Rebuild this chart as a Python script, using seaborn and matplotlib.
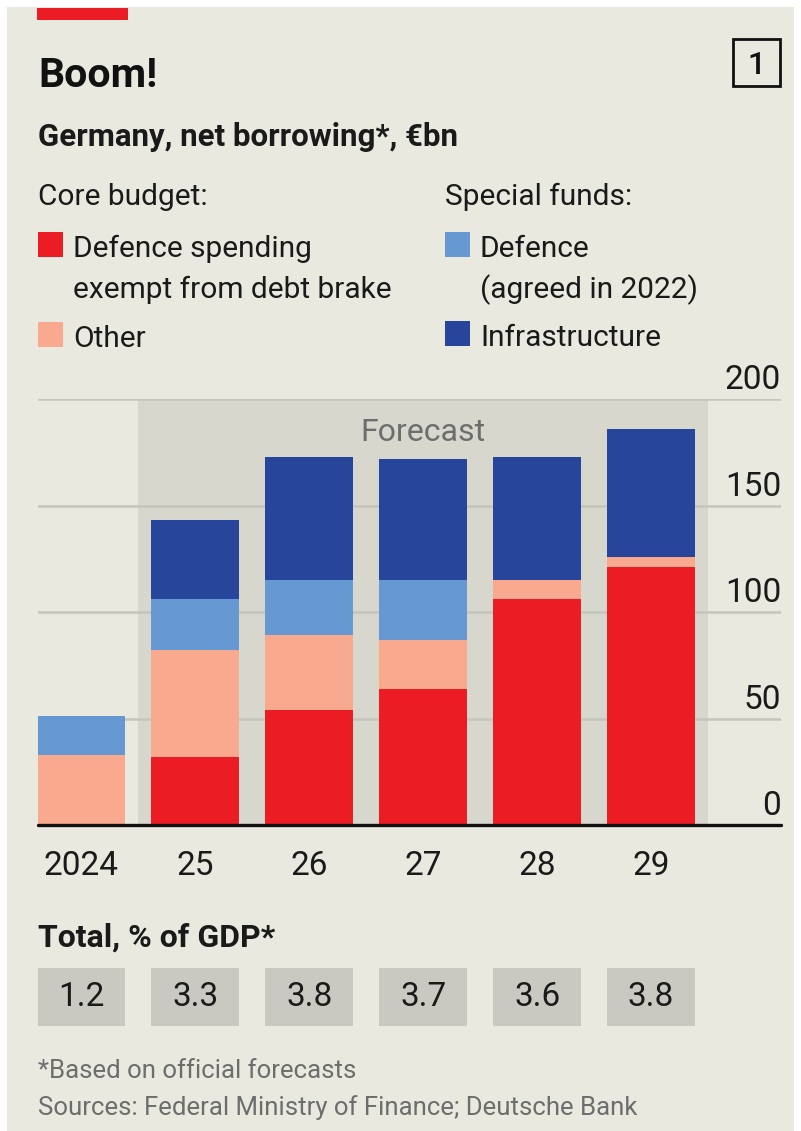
import matplotlib
matplotlib.use("Agg")
import matplotlib.pyplot as plt
import seaborn as sns
import pandas as pd
from matplotlib.patches import Rectangle

# data (€bn)
years = ["2024", "25", "26", "27", "28", "29"]
defence_exempt = [0, 32, 54, 64, 106, 121]
core_other = [33, 50, 35, 23, 9, 5]
fund_defence = [18, 24, 26, 28, 0, 0]
fund_infra = [0, 37, 58, 57, 58, 60]
gdp_pct = ["1.2", "3.3", "3.8", "3.7", "3.6", "3.8"]
y_ticks = [0, 50, 100, 150, 200]

RED = "#ec1c24"
SALMON = "#f9a98e"
LIGHTBLUE = "#6699d2"
DARKBLUE = "#28459c"
BG = "#eae9df"
SHADE = "#d8d7cd"
BOX = "#cac9c1"
GREY_TXT = "#6d6d6d"
INK = "#1a1a1a"

sns.set_style("white")
plt.rcParams["font.family"] = ["Roboto", "DejaVu Sans"]

W, H = 801, 1131
fig = plt.figure(figsize=(W / 100, H / 100), dpi=100)
fig.patch.set_facecolor("white")


def fx(px):
    return px / W


def fy(py):
    return 1 - py / H


# background panel
fig.patches.append(Rectangle((fx(7), 0), fx(787), fy(7), transform=fig.transFigure,
                             facecolor=BG, edgecolor="none", zorder=-10))
# red tag
fig.patches.append(Rectangle((fx(37), fy(20)), fx(91), 12 / H, transform=fig.transFigure,
                             facecolor=RED, edgecolor="none"))

# headings
fig.text(fx(38), fy(87), "Boom!", fontsize=29.5, fontweight="bold", color="#111111")
fig.text(fx(38), fy(146), "Germany, net borrowing*, €bn", fontsize=22.5, fontweight="bold",
         color=INK)
fig.patches.append(Rectangle((fx(733), fy(86)), 47 / W, 47 / H, transform=fig.transFigure,
                             facecolor="none", edgecolor="#111111", linewidth=2))
fig.text(fx(757), fy(74), "1", fontsize=23, fontweight="medium", ha="center", color="#111111")

# legend
fig.text(fx(38), fy(205), "Core budget:", fontsize=21.5, color=INK)
fig.text(fx(445), fy(205), "Special funds:", fontsize=21.5, color=INK)
legend_items = [
    (38, 232, RED, ["Defence spending", "exempt from debt brake"]),
    (38, 322, SALMON, ["Other"]),
    (445, 232, LIGHTBLUE, ["Defence", "(agreed in 2022)"]),
    (445, 321, DARKBLUE, ["Infrastructure"]),
]
for x0, y0, col, lines in legend_items:
    fig.patches.append(Rectangle((fx(x0), fy(y0 + 25)), 25 / W, 25 / H,
                                 transform=fig.transFigure, facecolor=col, edgecolor="none"))
    for i, line in enumerate(lines):
        fig.text(fx(x0 + 35), fy(y0 + 25 + 41 * i), line, fontsize=21.5, color=INK)

# main chart
ax = fig.add_axes([fx(38), fy(825), (781 - 38) / W, (825 - 399) / H])
ax.set_facecolor("none")

df = pd.DataFrame({
    "year": years,
    "red": defence_exempt,
    "other": core_other,
    "fdef": fund_defence,
    "infra": fund_infra,
})
df["c1"] = df["red"]
df["c2"] = df["c1"] + df["other"]
df["c3"] = df["c2"] + df["fdef"]
df["c4"] = df["c3"] + df["infra"]

for col, colour in [("c4", DARKBLUE), ("c3", LIGHTBLUE), ("c2", SALMON), ("c1", RED)]:
    sns.barplot(data=df, x="year", y=col, order=years, color=colour, saturation=1,
                width=0.77, errorbar=None, linewidth=0, ax=ax, zorder=3)

ax.set_xlim(-0.38, 6.14)
ax.set_ylim(0, 200)
ax.axvspan(0.5, 5.5, ymin=0, ymax=1, facecolor=SHADE, edgecolor="none", zorder=0)
for v in y_ticks[1:]:
    ax.axhline(v, color="#c6c5bb", linewidth=1.8, zorder=1)
ax.axhline(0, color="#111111", linewidth=2.4, zorder=4, clip_on=False)
ax.text(3, 180.5, "Forecast", ha="center", va="baseline", fontsize=23, color=GREY_TXT, zorder=2)

for v in y_ticks:
    ax.annotate(str(v), xy=(1, v), xycoords=ax.get_yaxis_transform(),
                xytext=(0, 7), textcoords="offset points", ha="right", va="baseline",
                fontsize=24, color=INK)

ax.set_yticks([])
ax.set_xlabel("")
ax.set_ylabel("")
ax.tick_params(axis="x", length=9, width=1.6, color="#111111", pad=9,
               labelsize=24, labelcolor=INK)
sns.despine(ax=ax, left=True, bottom=True)

# % of GDP row
fig.text(fx(38), fy(947), "Total, % of GDP*", fontsize=23, fontweight="bold", color=INK)
ax2 = fig.add_axes([fx(38), fy(1026), (781 - 38) / W, 58 / H])
ax2.set_facecolor("none")
ax2.bar(range(len(years)), [1] * len(years), width=0.77, color=BOX, linewidth=0)
for i, s in enumerate(gdp_pct):
    ax2.text(i, 0.5, s, ha="center", va="center", fontsize=24, color=INK)
ax2.set_xlim(-0.38, 6.14)
ax2.set_ylim(0, 1)
ax2.axis("off")

# footnotes
fig.text(fx(38), fy(1078), "*Based on official forecasts", fontsize=18.5, color=GREY_TXT)
fig.text(fx(38), fy(1115), "Sources: Federal Ministry of Finance; Deutsche Bank", fontsize=18.5,
         color=GREY_TXT)

fig.savefig("out.png", dpi=100, facecolor=fig.get_facecolor())
